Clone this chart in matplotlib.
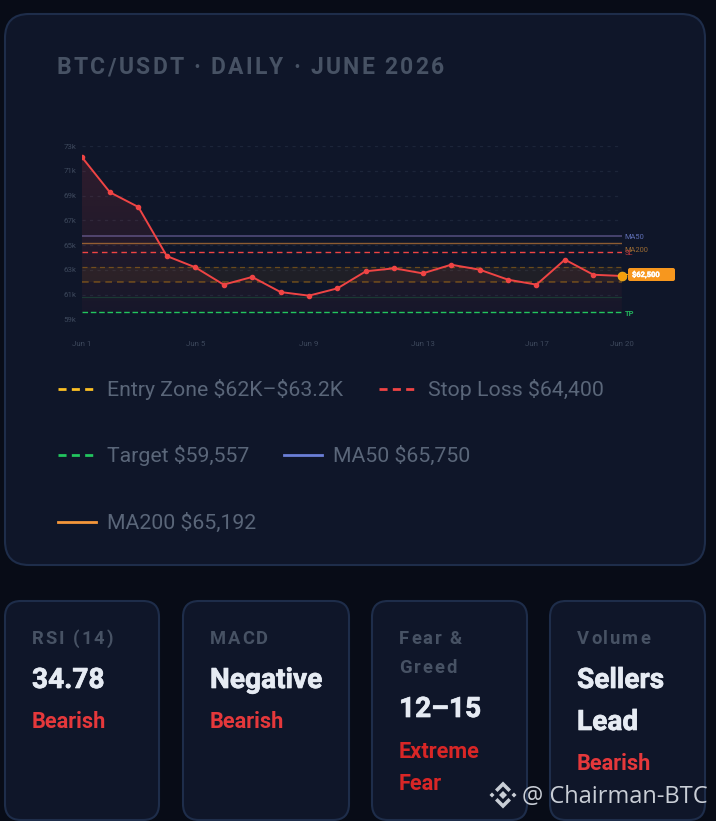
import matplotlib
matplotlib.use("Agg")
import matplotlib.pyplot as plt
import matplotlib.patheffects as pe
import numpy as np
from matplotlib.patches import FancyBboxPatch, Polygon
from matplotlib.font_manager import FontProperties

W, H = 716, 821
plt.rcParams["text.parse_math"] = False

# data
days = list(range(1, 21))
price = [72.14, 69.26, 68.07, 64.11, 63.2, 61.8, 62.42, 61.2, 60.91, 61.5,
         62.88, 63.12, 62.71, 63.41, 63.01, 62.2, 61.8, 63.82, 62.6, 62.5]
y_ticks = [59, 61, 63, 65, 67, 69, 71, 73]
y_labels = ["59k", "61k", "63k", "65k", "67k", "69k", "71k", "73k"]
x_ticks = [1, 5, 9, 13, 17, 20]
x_labels = ["Jun 1", "Jun 5", "Jun 9", "Jun 13", "Jun 17", "Jun 20"]
ma50 = 65.75
ma200 = 65.192
stop_loss = 64.4
entry_low = 62.0
entry_high = 63.2
target = 59.557
support = 60.78

legend_rows = [
    (58, 389, "#fbbf24", "--", "Entry Zone $62K–$63.2K"),
    (379, 389, "#ef4444", "--", "Stop Loss $64,400"),
    (58, 455, "#22c55e", "--", "Target $59,557"),
    (284, 455, "#6b7fd7", "-", "MA50 $65,750"),
    (58, 522, "#f4973a", "-", "MA200 $65,192"),
]

BG = "#080c17"
CARD = "#0f1629"
EDGE = "#1e2d4a"
MUTED = "#475264"
WHITE = "#e6ebf3"
RED = "#e5383b"

fig = plt.figure(figsize=(W / 100, H / 100), dpi=100, facecolor=BG)
bg = fig.add_axes([0, 0, 1, 1], zorder=0)
bg.set_xlim(0, W)
bg.set_ylim(H, 0)
bg.axis("off")
renderer = fig.canvas.get_renderer()


def card(x0, y0, x1, y1, r):
    bg.add_patch(FancyBboxPatch((x0 + r, y0 + r), x1 - x0 - 2 * r, y1 - y0 - 2 * r,
                                boxstyle="round,pad=%d,rounding_size=%d" % (r, r),
                                fc=CARD, ec=EDGE, lw=1.5))


def spaced(x, y, s, size, color, spacing, weight="bold"):
    # no letter spacing in matplotlib, so place the letters one by one
    fp = FontProperties(family="Roboto", size=size, weight=weight)
    bar = renderer.get_text_width_height_descent("|", fp, False)[0]
    for i, ch in enumerate(s):
        w = renderer.get_text_width_height_descent(s[:i] + "|", fp, False)[0] - bar
        bg.text(x + w + i * spacing, y, ch, fontproperties=fp, color=color, va="baseline")


card(5, 14, 705, 565, 24)
spaced(57, 74, "BTC/USDT · DAILY · JUNE 2026", 16.5, MUTED, 2.25)

# legend
for x, y, col, ls, label in legend_rows:
    if ls == "--":
        bg.plot([x, x + 35], [y, y], color=col, lw=2.0, dashes=(2.9, 1.9))
    else:
        bg.plot([x, x + 38], [y, y], color=col, lw=2.0)
    bg.text(x + 49, y + 1, label, family="Roboto", fontsize=15.35, color="#5a6679", va="center")

# bottom cards
cards = [
    (5, 159, 32, ["RSI (14)"], ["34.78"], ["Bearish"], RED),
    (183, 349, 210, ["MACD"], ["Negative"], ["Bearish"], RED),
    (372, 527, 399, ["Fear &", "Greed"], ["12–15"], ["Extreme", "Fear"], "#d92626"),
    (550, 705, 577, ["Volume"], ["Sellers", "Lead"], ["Bearish"], RED),
]
thick = [pe.withStroke(linewidth=0.5, foreground=WHITE)]
for x0, x1, tx, heads, vals, notes, col in cards:
    card(x0, 601, x1, 820, 16)
    y = 644
    for s in heads:
        spaced(tx, y, s, 13.2, MUTED, 1.95)
        y += 29
    y += 15
    for s in vals:
        bg.text(tx, y, s, family="Roboto", weight="bold", fontsize=20.2, color=WHITE,
                va="baseline", path_effects=thick)
        y += 42
    y -= 1
    for s in notes:
        bg.text(tx - 0.5, y - 0.5, s, family="Roboto", weight="bold", fontsize=15.7, color=col, va="baseline")
        y += 32.5

# chart
left, right, top, bottom = 81.5, 621.8, 146.0, 319.3
ax = fig.add_axes([left / W, 1 - bottom / H, (right - left) / W, (bottom - top) / H], zorder=1)
ax.patch.set_alpha(0)
ax.set_xlim(1, 20)
ax.set_ylim(59, 73)
for s in ax.spines.values():
    s.set_visible(False)
ax.set_yticks(y_ticks, y_labels)
ax.set_xticks(x_ticks, x_labels)
ax.tick_params(length=0, labelsize=5.7, labelcolor="#3d485c", pad=3.5)
ax.tick_params(axis="x", pad=15.5)
for lab in ax.get_yticklabels() + ax.get_xticklabels():
    lab.set_family("Roboto")
ax.yaxis.grid(True, color="#1c2539", lw=0.9, dashes=(2.5, 3.5))
ax.set_axisbelow(True)

# red fill fading downward, clipped to the area under the price
area = ax.fill_between(days, price, target, color="none")
grad = np.zeros((256, 2, 4))
grad[..., :3] = matplotlib.colors.to_rgb("#ef4444")
grad[..., 3] = np.linspace(0.15, 0.04, 256)[:, None]
im = ax.imshow(grad, extent=(1, 20, target, 73), aspect="auto", zorder=1, origin="upper")
im.set_clip_path(area.get_paths()[0], ax.transData)
ax.set_xlim(1, 20)
ax.set_ylim(59, 73)

ax.axhspan(entry_low, entry_high, color="#f59e0b", alpha=0.07, lw=0, zorder=1.5)
ax.axhline(entry_high, color="#f59e0b", alpha=0.35, lw=0.9, dashes=(4, 3), zorder=2)
ax.axhline(entry_low, color="#f59e0b", alpha=0.35, lw=1.2, dashes=(4, 3), zorder=2)
ax.axhline(ma50, color="#8f7fc8", alpha=0.5, lw=1.2, zorder=2)
ax.axhline(ma200, color="#f4973a", alpha=0.55, lw=1.0, zorder=2)
ax.axhline(stop_loss, color="#ef4444", lw=1.0, dashes=(4, 3), zorder=2)
ax.axhline(support, color="#22c55e", alpha=0.2, lw=0.8, zorder=2)
ax.axhline(target, color="#22c55e", lw=1.0, dashes=(4, 2), zorder=2)

ax.plot(days, price, color="#ef4444", lw=1.4, marker="o", ms=3, zorder=3,
        markevery=list(range(len(days) - 1)))
ax.plot(days[-1], price[-1], "o", color="#f59e0b", ms=6.5, mec="#fbbf24", mew=0.4, zorder=4, clip_on=False)

for val, name, col, dy, weight in [
    (ma50, "MA50", "#5f6fb5", -1, "normal"),
    (ma200, "MA200", "#9a6a33", -5.5, "normal"),
    (stop_loss, "SL", "#c0383e", -1, "normal"),
    (target, "TP", "#22b35c", -1, "bold"),
]:
    ax.annotate(name, xy=(1, val), xycoords=("axes fraction", "data"), xytext=(2.2, dy),
                textcoords="offset points", family="Roboto", fontsize=5.4, color=col,
                weight=weight, va="center", annotation_clip=False)

# price tag
bg.plot([621, 628], [274, 274], color="#f59e0b", lw=0.8, zorder=5)
bg.add_patch(FancyBboxPatch((630, 270), 43, 9, boxstyle="round,pad=2,rounding_size=2",
                            fc="#f7971e", ec="none", zorder=6))
bg.text(632, 275, "$62,500", family="Roboto", weight="bold", fontsize=5.4, color="white",
        va="center", zorder=7, path_effects=[pe.withStroke(linewidth=0.3, foreground="white")])

# watermark
wm = "#c9ced6"
top_ax = fig.add_axes([0, 0, 1, 1], zorder=3)
top_ax.set_xlim(0, W)
top_ax.set_ylim(H, 0)
top_ax.axis("off")
cx, cy = 503, 795
for pts in [
    [(-4, 0), (0, -4), (4, 0), (0, 4)],
    [(-13.5, 0), (-11, -2.5), (-8.5, 0), (-11, 2.5)],
    [(13.5, 0), (11, -2.5), (8.5, 0), (11, 2.5)],
    [(0, -13.5), (8, -5.5), (5.5, -3), (0, -8.5), (-5.5, -3), (-8, -5.5)],
    [(0, 13.5), (8, 5.5), (5.5, 3), (0, 8.5), (-5.5, 3), (-8, 5.5)],
]:
    top_ax.add_patch(Polygon([(cx + a, cy + b) for a, b in pts], fc=wm, ec="none"))
top_ax.text(522, 803, "@ Chairman-BTC", family="Open Sans", fontsize=17, color=wm, va="baseline")

fig.savefig("out.png", dpi=100, facecolor=BG)
